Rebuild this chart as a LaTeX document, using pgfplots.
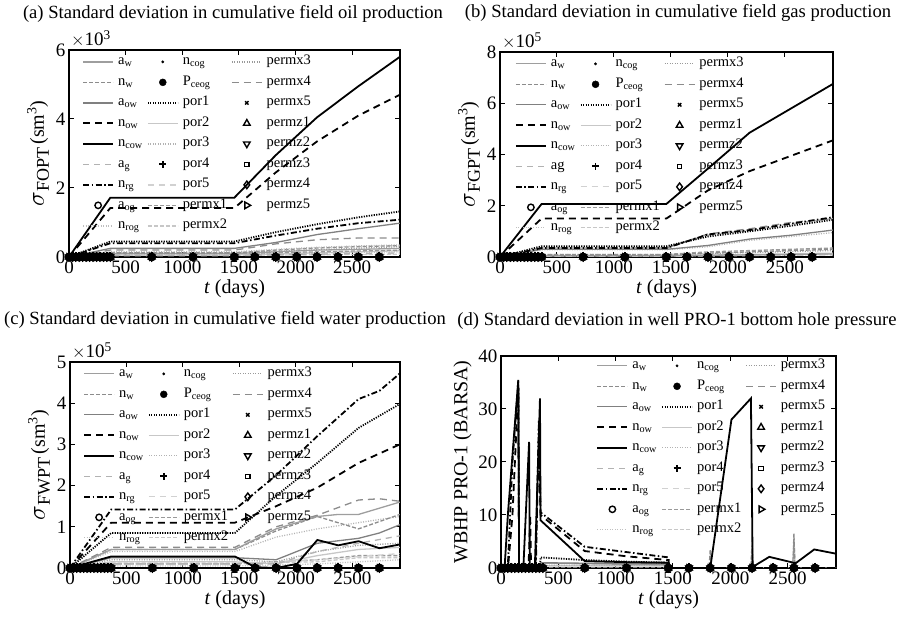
\documentclass[border=0pt]{standalone}
\usepackage{fontspec}
\setmainfont{Liberation Serif}
\usepackage{pgfplots}
\usepackage{pgfplotstable}
\pgfplotsset{compat=1.18}

\definecolor{gAw}{gray}{0.62}
\definecolor{gNw}{gray}{0.55}
\definecolor{gAow}{gray}{0.5}
\definecolor{gAg}{gray}{0.7}
\definecolor{gNrog}{gray}{0.75}
\definecolor{gPor2}{gray}{0.78}
\definecolor{gPor3}{gray}{0.7}
\definecolor{gPor5}{gray}{0.82}
\definecolor{gPx1}{gray}{0.6}
\definecolor{gPx2}{gray}{0.78}
\definecolor{gPx3}{gray}{0.6}
\definecolor{gPx4}{gray}{0.55}

\pgfplotstableread{
t z
0 0
31 0
59 0
90 0
120 0
151 0
181 0
212 0
243 0
273 0
304 0
334 0
365 0
730 0
1095 0
1460 0
1640 0
1825 0
2010 0
2190 0
2375 0
2555 0
2740 0
}\markdata

\newcommand{\ylab}[1]{{\fontsize{26}{26}\selectfont$\sigma$}\raisebox{-5pt}{\fontsize{18}{18}\selectfont #1}\,(sm\textsuperscript{3})}

\pgfplotsset{
 s aw/.style={color=gAw, solid, line width=1.3pt},
 s nw/.style={color=gNw, line width=1.3pt, dash pattern=on 4pt off 2pt},
 s aow/.style={color=gAow, solid, line width=1.3pt},
 s now/.style={black, line width=1.8pt, dash pattern=on 7pt off 5pt},
 s ncow/.style={black, solid, line width=1.8pt},
 s ag/.style={color=gAg, line width=1.3pt, dash pattern=on 6pt off 5pt},
 s nrg/.style={black, line width=1.8pt, dash pattern=on 6pt off 2.5pt on 1.5pt off 2.5pt},
 s aog/.style={black, only marks, mark=o, mark size=3.2pt, line width=1.4pt},
 s nrog/.style={color=gNrog, line width=1.3pt, dash pattern=on 1pt off 1.5pt},
 s ncog/.style={black, only marks, mark=*, mark size=1.2pt},
 s pceog/.style={black, only marks, mark=*, mark size=4.2pt},
 s por1/.style={black, line width=1.8pt, dash pattern=on 1.2pt off 1.3pt},
 s por2/.style={color=gPor2, solid, line width=1.3pt},
 s por3/.style={color=gPor3, line width=1.3pt, dash pattern=on 1pt off 1.5pt},
 s por4/.style={black, only marks, mark=+, mark size=4.5pt, line width=1.8pt},
 s por5/.style={color=gPor5, line width=1.3pt, dash pattern=on 6pt off 5pt},
 s permx1/.style={color=gPx1, line width=1.3pt, dash pattern=on 4pt off 2pt},
 s permx2/.style={color=gPx2, line width=1.3pt, dash pattern=on 4pt off 2pt},
 s permx3/.style={color=gPx3, line width=1.3pt, dash pattern=on 1pt off 1.5pt},
 s permx4/.style={color=gPx4, line width=1.3pt, dash pattern=on 7pt off 5pt},
 s permx5/.style={black, only marks, mark=x, mark size=2.4pt, line width=1.4pt},
 s permz1/.style={black, only marks, mark=triangle, mark size=3.8pt, line width=1.4pt},
 s permz2/.style={black, only marks, mark=triangle, mark size=3.8pt, line width=1.4pt, mark options={rotate=180}},
 s permz3/.style={black, only marks, mark=square, mark size=2.2pt, line width=1.1pt},
 s permz4/.style={black, only marks, mark=diamond, mark size=3.8pt, line width=1.4pt},
 s permz5/.style={black, only marks, mark=triangle, mark size=3.8pt, line width=1.4pt, mark options={rotate=-90}},
 base/.style={scale only axis, xmin=0, xmax=2922, ymin=0,
   xtick={0,500,1000,1500,2000,2500}, scaled ticks=false,
   tick label style={font=\fontsize{19}{19}\selectfont},
   /pgf/number format/assume math mode=true, /pgf/number format/1000 sep={},
   label style={font=\fontsize{20}{22}\selectfont},
   xlabel={\textit{t} (days)},
   xlabel style={yshift=1pt},
   axis line style={line width=1.2pt}, major tick length=5pt,
   tick style={line width=1pt, black},
   legend columns=3, legend cell align=left,
   legend style={draw=none, fill=none, font=\fontsize{14.5}{14.5}\selectfont,
     inner sep=0pt, outer sep=0pt, column sep=2.6pt, row sep=3pt, anchor=north west,
     nodes={inner sep=1.5pt, text height=10pt, text depth=4.5pt}},
   legend image code/.code={\draw[mark repeat=2,mark phase=2,##1] plot coordinates {(0pt,0pt) (15pt,0pt) (30pt,0pt)};},
 },
 legA/.style={legend entries={a\textsubscript{w}, n\textsubscript{cog}, permx3, n\textsubscript{w}, P\textsubscript{ceog}, permx4, a\textsubscript{ow}, por1, permx5, n\textsubscript{ow}, por2, permz1, n\textsubscript{cow}, por3, permz2, a\textsubscript{g}, por4, permz3, n\textsubscript{rg}, por5, permz4, a\textsubscript{og}, permx1, permz5, n\textsubscript{rog}, permx2}},
 legB/.style={legend entries={a\textsubscript{w}, n\textsubscript{cog}, permx3, n\textsubscript{w}, P\textsubscript{ceog}, permx4, a\textsubscript{ow}, por1, permx5, n\textsubscript{ow}, por2, permz1, n\textsubscript{cow}, por3, permz2, ag, por4, permz3, n\textsubscript{rg}, por5, permz4, a\textsubscript{og}, permx1, permz5, n\textsubscript{rog}, permx2}},
}

\newcommand{\mylegend}{%
\addlegendimage{s aw}\addlegendimage{s ncog}\addlegendimage{s permx3}%
\addlegendimage{s nw}\addlegendimage{s pceog,mark size=3.5pt}\addlegendimage{s permx4}%
\addlegendimage{s aow}\addlegendimage{s por1}\addlegendimage{s permx5}%
\addlegendimage{s now}\addlegendimage{s por2}\addlegendimage{s permz1}%
\addlegendimage{s ncow}\addlegendimage{s por3}\addlegendimage{s permz2}%
\addlegendimage{s ag}\addlegendimage{s por4,mark size=3.5pt}\addlegendimage{s permz3}%
\addlegendimage{s nrg}\addlegendimage{s por5}\addlegendimage{s permz4}%
\addlegendimage{s aog}\addlegendimage{s permx1}\addlegendimage{s permz5}%
\addlegendimage{s nrog}\addlegendimage{s permx2}}

\newcommand{\zeromarks}{%
\addplot[s aog] table[x=t,y=z]{\markdata};
\addplot[s ncog] table[x=t,y=z]{\markdata};
\addplot[s permx5] table[x=t,y=z]{\markdata};
\addplot[s permz1] table[x=t,y=z]{\markdata};
\addplot[s permz2] table[x=t,y=z]{\markdata};
\addplot[s permz3] table[x=t,y=z]{\markdata};
\addplot[s permz4] table[x=t,y=z]{\markdata};
\addplot[s permz5] table[x=t,y=z]{\markdata};
\addplot[s pceog] table[x=t,y=z]{\markdata};
\addplot[s por4] table[x=t,y=z]{\markdata};
}

\begin{document}
\begin{tikzpicture}
\useasboundingbox (0,0) rectangle (903pt,620pt);

% ---------------- (a) ----------------
\begin{axis}[base, legA, name=axA, at={(69pt,363pt)}, anchor=south west, width=331pt, height=207pt,
  ymax=6, ytick={0,2,4,6}, ylabel={\ylab{FOPT}},
  legend style={at={(axis description cs:0.04,0.985)}}]
\mylegend
\addplot[s por5] coordinates {(0,0)(365,0.04)(1460,0.04)(2920,0.1)};
\addplot[s permx2] coordinates {(0,0)(365,0.05)(1460,0.05)(2920,0.08)};
\addplot[s por2] coordinates {(0,0)(365,0.06)(1460,0.06)(2920,0.18)};
\addplot[s nrog] coordinates {(0,0)(365,0.08)(1460,0.08)(2920,0.15)};
\addplot[s ag] coordinates {(0,0)(365,0.05)(1460,0.05)(2920,0.12)};
\addplot[s permx1] coordinates {(0,0)(365,0.1)(1460,0.1)(2920,0.2)};
\addplot[s aw] coordinates {(0,0)(365,0.1)(1460,0.1)(1825,0.15)(2190,0.2)(2555,0.22)(2920,0.25)};
\addplot[s permx3] coordinates {(0,0)(365,0.12)(1460,0.12)(2920,0.3)};
\addplot[s nw] coordinates {(0,0)(365,0.12)(1460,0.12)(1825,0.2)(2190,0.26)(2555,0.3)(2920,0.33)};
\addplot[s por3] coordinates {(0,0)(365,0.15)(1460,0.15)(1825,0.22)(2190,0.28)(2555,0.32)(2920,0.35)};
\addplot[s permx4] coordinates {(0,0)(365,0.2)(1460,0.2)(1825,0.38)(2190,0.5)(2555,0.55)(2920,0.55)};
\addplot[s aow] coordinates {(0,0)(365,0.25)(1460,0.25)(1825,0.42)(2190,0.65)(2555,0.82)(2920,0.98)};
\addplot[s nrg] coordinates {(0,0)(365,0.4)(1460,0.4)(1825,0.62)(2190,0.82)(2555,0.98)(2920,1.08)};
\addplot[s por1] coordinates {(0,0)(365,0.45)(1460,0.45)(1825,0.72)(2190,0.95)(2555,1.15)(2920,1.32)};
\addplot[s now] coordinates {(0,0)(365,1.42)(1460,1.42)(1825,2.45)(2190,3.35)(2555,4.1)(2920,4.7)};
\addplot[s ncow] coordinates {(0,0)(365,1.72)(1460,1.72)(1825,2.95)(2190,4.05)(2555,4.95)(2920,5.8)};
\zeromarks
\end{axis}

% ---------------- (b) ----------------
\begin{axis}[base, legB, name=axB, at={(500pt,363pt)}, anchor=south west, width=333pt, height=205pt,
  ymax=8, ytick={0,2,4,6,8}, ylabel={\ylab{FGPT}},
  legend style={at={(axis description cs:0.045,0.985)}}]
\mylegend
\addplot[s por5] coordinates {(0,0)(365,0.03)(1460,0.03)(2920,0.08)};
\addplot[s permx2] coordinates {(0,0)(365,0.04)(1460,0.04)(2920,0.1)};
\addplot[s por2] coordinates {(0,0)(365,0.05)(1460,0.05)(2920,0.15)};
\addplot[s nrog] coordinates {(0,0)(365,0.05)(1460,0.05)(2920,0.1)};
\addplot[s aw] coordinates {(0,0)(365,0.05)(1460,0.05)(2920,0.12)};
\addplot[s permx3] coordinates {(0,0)(365,0.1)(1460,0.1)(2920,0.25)};
\addplot[s permx1] coordinates {(0,0)(365,0.1)(1460,0.1)(1825,0.2)(2920,0.35)};
\addplot[s nw] coordinates {(0,0)(365,0.08)(1460,0.08)(1825,0.15)(2920,0.3)};
\addplot[s por3] coordinates {(0,0)(365,0.28)(1460,0.28)(1825,0.4)(2190,0.65)(2555,0.8)(2920,0.95)};
\addplot[s aow] coordinates {(0,0)(365,0.3)(1460,0.3)(1825,0.45)(2190,0.7)(2555,0.85)(2920,1.05)};
\addplot[s ag] coordinates {(0,0)(365,0.35)(1460,0.35)(1825,0.85)(2190,1.05)(2555,1.3)(2920,1.5)};
\addplot[s permx4] coordinates {(0,0)(365,0.35)(1460,0.35)(1825,0.9)(2190,1.1)(2555,1.35)(2920,1.5)};
\addplot[s nrg] coordinates {(0,0)(365,0.35)(1460,0.35)(1825,0.88)(2190,1.05)(2555,1.3)(2920,1.55)};
\addplot[s por1] coordinates {(0,0)(365,0.42)(1460,0.42)(1825,0.8)(2190,1.0)(2555,1.22)(2920,1.45)};
\addplot[s now] coordinates {(0,0)(365,1.5)(1460,1.5)(1825,2.6)(2190,3.35)(2555,3.95)(2920,4.55)};
\addplot[s ncow] coordinates {(0,0)(365,2.07)(1460,2.07)(1825,3.45)(2190,4.85)(2555,5.8)(2920,6.75)};
\zeromarks
\end{axis}

% ---------------- (c) ----------------
\begin{axis}[base, legA, name=axC, at={(70pt,52pt)}, anchor=south west, width=330pt, height=206pt,
  ymax=5, ytick={0,1,2,3,4,5}, ylabel={\ylab{FWPT}},
  legend style={at={(axis description cs:0.04,0.985)}}]
\mylegend
\addplot[s permx1] coordinates {(0,0)(365,0.1)(1460,0.1)(2190,0.2)(2555,0.3)(2920,0.3)};
\addplot[s permx2] coordinates {(0,0)(365,0.12)(1460,0.12)(2190,0.15)(2555,0.25)(2920,0.25)};
\addplot[s nrog] coordinates {(0,0)(365,0.05)(1460,0.05)(2190,0.1)(2920,0.2)};
\addplot[s por5] coordinates {(0,0)(365,0.08)(1460,0.08)(2190,0.2)(2920,0.35)};
\addplot[s por2] coordinates {(0,0)(365,0.15)(1460,0.15)(1825,0.1)(2190,0.3)(2555,0.45)(2920,0.5)};
\addplot[s permx3] coordinates {(0,0)(365,0.2)(1460,0.2)(1825,0.15)(2190,0.4)(2555,0.55)(2920,0.6)};
\addplot[s ag] coordinates {(0,0)(365,0.1)(1460,0.1)(1825,0.1)(2190,0.4)(2555,0.6)(2920,0.78)};
\addplot[s aow] coordinates {(0,0)(365,0.25)(1460,0.25)(1825,0.2)(2190,0.6)(2555,0.72)(2740,0.85)(2920,1.05)};
\addplot[s por3] coordinates {(0,0)(365,0.4)(1460,0.4)(1825,0.75)(2190,0.95)(2555,1.1)(2920,1.25)};
\addplot[s nw] coordinates {(0,0)(365,0.45)(1460,0.45)(1825,0.9)(2190,1.25)(2555,0.95)(2920,1.3)};
\addplot[s aw] coordinates {(0,0)(365,0.45)(1460,0.45)(1825,0.95)(2190,1.25)(2375,1.3)(2555,1.3)(2920,1.6)};
\addplot[s permx4] coordinates {(0,0)(365,0.5)(1460,0.5)(1825,1.0)(2190,1.28)(2555,1.65)(2740,1.68)(2920,1.62)};
\addplot[s ncow] coordinates {(0,0)(365,0.28)(1460,0.28)(1640,0.02)(1825,0)(2010,0.1)(2190,0.68)(2375,0.55)(2555,0.65)(2740,0.48)(2920,0.57)};
\addplot[s now] coordinates {(0,0)(365,1.1)(1460,1.1)(1825,1.5)(2190,1.95)(2555,2.55)(2920,3.0)};
\addplot[s por1] coordinates {(0,0)(365,0.85)(1460,0.85)(1825,1.75)(2190,2.55)(2555,3.4)(2920,3.98)};
\addplot[s nrg] coordinates {(0,0)(365,1.42)(1460,1.42)(1825,2.25)(2190,3.2)(2555,4.1)(2740,4.3)(2920,4.72)};
\zeromarks
\end{axis}

% ---------------- (d) ----------------
\begin{axis}[base, legA, name=axD, at={(501pt,52pt)}, anchor=south west, width=335pt, height=212pt,
  ymax=40, ytick={0,10,20,30,40}, ylabel={WBHP PRO-1 (BARSA)},
  legend style={at={(axis description cs:0.285,0.995)}}]
\mylegend
\addplot[s por2] coordinates {(0,0)(340,0)(345,0.4)(1460,0.4)(1470,0)(2922,0)};
\addplot[s por3] coordinates {(0,0)(340,0)(345,0.5)(1460,0.5)(1470,0)(2922,0)};
\addplot[s aw] coordinates {(0,0)(340,0)(345,0.9)(730,0.8)(1460,0.6)(1470,0)(2922,0)};
\addplot[s aow] coordinates {(0,0)(340,0)(345,1.0)(730,0.9)(1460,0.8)(1470,0)(2922,0)};
\addplot[s permx1] coordinates {(0,0)(1815,0)(1825,2.5)(1835,0)(2180,0)(2190,4)(2200,0)(2545,0)(2555,5.5)(2565,0)(2922,0)};
\addplot[s nw] coordinates {(0,0)(1815,0)(1825,3.5)(1835,0)(2180,0)(2190,5)(2200,0)(2545,0)(2555,6.5)(2565,0)(2922,0)};
\addplot[s por1] coordinates {(0,0)(340,0)(345,2)(730,1.5)(1095,1.2)(1460,1)(1470,0)(2922,0)};
\addplot[s now] coordinates {(0,0)(61,0)(100,10)(151,34)(158,0)(240,0)(255,10)(262,0)(300,0)(330,24)(345,10)(730,3.2)(1095,2.2)(1460,1.5)(1470,0)(2922,0)};
\addplot[s nrg] coordinates {(0,0)(59,0)(100,20)(151,35.5)(158,0)(304,0)(330,28)(345,10.5)(730,4)(1095,3)(1460,2)(1470,0)(2922,0)};
\addplot[s ncow] coordinates {(0,0)(31,0)(61,10.4)(151,35.5)(158,0)(195,0)(245,23.8)(251,0)(295,0)(340,32)(345,9)(730,1.3)(1095,1.1)(1460,1.0)(1470,0)(1825,0)(2010,28)(2180,32)(2195,0.2)(2340,2.1)(2570,0.9)(2732,3.5)(2922,2.7)};
\zeromarks
\end{axis}

% titles and scale labels
\node[anchor=base, font=\fontsize{18.6}{18.6}\selectfont] at (233pt,601pt) {(a) Standard deviation in cumulative field oil production};
\node[anchor=base, font=\fontsize{18.6}{18.6}\selectfont] at (678pt,602pt) {(b) Standard deviation in cumulative field gas production};
\node[anchor=base, font=\fontsize{18.6}{18.6}\selectfont] at (225pt,295pt) {(c) Standard deviation in cumulative field water production};
\node[anchor=base, font=\fontsize{18.6}{18.6}\selectfont] at (677pt,294pt) {(d) Standard deviation in well PRO-1 bottom hole pressure};
\node[anchor=south west, inner sep=0pt, font=\fontsize{19}{19}\selectfont] at ([xshift=2pt,yshift=3pt]axA.north west) {$\times$10\textsuperscript{3}};
\node[anchor=south west, inner sep=0pt, font=\fontsize{19}{19}\selectfont] at ([xshift=2pt,yshift=3pt]axB.north west) {$\times$10\textsuperscript{5}};
\node[anchor=south west, inner sep=0pt, font=\fontsize{19}{19}\selectfont] at ([xshift=2pt,yshift=3pt]axC.north west) {$\times$10\textsuperscript{5}};
\end{tikzpicture}
\end{document}
